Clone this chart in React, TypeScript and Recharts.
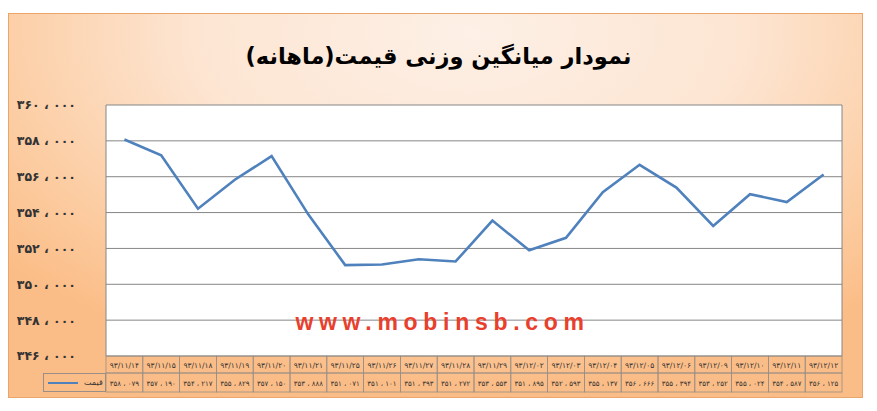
import React from 'react';
import { LineChart, Line, XAxis, YAxis, CartesianGrid, Legend } from 'recharts';

const dates = [
  '93/11/14', '93/11/15', '93/11/18', '93/11/19', '93/11/20', '93/11/21', '93/11/25', '93/11/26', '93/11/27', '93/11/28',
  '93/11/29', '93/12/02', '93/12/03', '93/12/04', '93/12/05', '93/12/06', '93/12/09', '93/12/10', '93/12/11', '93/12/12',
];
const prices = [
  358079, 357190, 354217, 355829, 357150, 353888, 351071, 351101, 351393, 351272,
  353553, 351895, 352593, 355137, 356666, 355394, 353252, 355024, 354587, 356125,
];
const yTicks = [346000, 348000, 350000, 352000, 354000, 356000, 358000, 360000];
const seriesName = 'قیمت';
const title = 'نمودار میانگین وزنی قیمت(ماهانه)';
const watermark = 'www.mobinsb.com';

const data = dates.map((d, i) => ({ date: d, price: prices[i] }));

const W = 877;
const H = 411;
const M = { top: 105, right: 35, bottom: 19, left: 20 };
const Y_W = 86;
const DATE_H = 17;
const VAL_H = 19;
const PLOT_W = W - M.left - M.right - Y_W;
const BAND = PLOT_W / dates.length;

const fa = (s: string) => s.replace(/[0-9]/g, (c) => '۰۱۲۳۴۵۶۷۸۹'[Number(c)]);
const fmtAxis = (v: number) => fa(String(Math.floor(v / 1000))) + ' ، ' + fa(String(v % 1000).padStart(3, '0'));
const fmtVal = (v: number) => fa(String(Math.floor(v / 1000))) + ' ، ' + fa(String(v % 1000).padStart(3, '0'));

const FONT = "'DejaVu Sans', sans-serif";
const CELL_STROKE = '#9a8f86';

const DateTick = (props: any) => {
  const { x, y, payload } = props;
  return (
    <g>
      <rect x={x - BAND / 2} y={y} width={BAND} height={DATE_H} fill="none" stroke={CELL_STROKE} strokeWidth={0.8} />
      <text x={x} y={y + DATE_H / 2 + 3} textAnchor="middle" fontSize={7.5} fontFamily={FONT} fill="#333">
        {fa(payload.value)}
      </text>
    </g>
  );
};

const ValTick = (props: any) => {
  const { x, y, index } = props;
  return (
    <g>
      <rect x={x - BAND / 2} y={y} width={BAND} height={VAL_H} fill="none" stroke={CELL_STROKE} strokeWidth={0.8} />
      <text x={x} y={y + VAL_H / 2 + 3} textAnchor="middle" fontSize={7} fontFamily={FONT} fill="#333">
        {fmtVal(prices[index])}
      </text>
    </g>
  );
};

const LegendCell = () => (
  <div
    style={{
      width: 63,
      height: VAL_H,
      boxSizing: 'border-box',
      border: `0.8px solid ${CELL_STROKE}`,
      display: 'flex',
      alignItems: 'center',
      fontFamily: FONT,
      fontSize: 8,
      color: '#333',
    }}
  >
    <div style={{ width: 30, height: 2, background: '#4f81bd', marginLeft: 4 }} />
    <span style={{ marginLeft: 6 }}>{seriesName}</span>
  </div>
);

export default function App() {
  return (
    <div style={{ position: 'absolute', left: 0, top: 0, width: W, height: H, background: '#fff' }}>
      <div
        style={{
          position: 'absolute',
          left: 8,
          top: 13,
          width: 855,
          height: 385,
          boxSizing: 'border-box',
          border: '1px solid #e9a56a',
          background: 'radial-gradient(ellipse 72% 92% at 54% 5%, #fdf0e6 0%, #fde5d2 45%, #fccda3 78%, #fbbd87 100%)',
        }}
      />
      <div
        style={{
          position: 'absolute',
          left: 0,
          top: 43,
          width: W,
          textAlign: 'center',
          fontFamily: FONT,
          fontWeight: 'bold',
          fontSize: 22.5,
          color: '#000',
          direction: 'rtl',
        }}
      >
        {title}
      </div>
      <div style={{ position: 'absolute', left: 0, top: 0 }}>
        <LineChart width={W} height={H} data={data} margin={M}>
          <CartesianGrid
            fill="#ffffff"
            stroke="#868686"
            strokeWidth={1}
            verticalCoordinatesGenerator={({ offset }: any) => [offset.left, offset.left + offset.width]}
          />
          <XAxis
            xAxisId="date"
            dataKey="date"
            scale="band"
            height={DATE_H}
            axisLine={false}
            tickLine={false}
            tickSize={0}
            tickMargin={0}
            interval={0}
            tick={<DateTick />}
          />
          <XAxis
            xAxisId="val"
            dataKey="date"
            scale="band"
            height={VAL_H}
            axisLine={false}
            tickLine={false}
            tickSize={0}
            tickMargin={0}
            interval={0}
            tick={<ValTick />}
          />
          <YAxis
            width={Y_W}
            domain={[346000, 360000]}
            ticks={yTicks}
            interval={0}
            axisLine={false}
            tickLine={false}
            tickSize={0}
            tickMargin={30}
            tickFormatter={fmtAxis}
            tick={{ fontSize: 12.5, fontWeight: 'bold', fill: '#333', fontFamily: FONT }}
          />
          <Legend
            layout="vertical"
            verticalAlign="middle"
            align="center"
            wrapperStyle={{ left: 43, top: H - M.bottom - VAL_H, width: 63, height: VAL_H }}
            content={<LegendCell />}
          />
          <Line
            xAxisId="date"
            type="linear"
            dataKey="price"
            name={seriesName}
            stroke="#4f81bd"
            strokeWidth={2.6}
            dot={false}
            isAnimationActive={false}
          />
        </LineChart>
      </div>
      <div
        style={{
          position: 'absolute',
          left: 4,
          top: 309,
          width: W,
          textAlign: 'center',
          fontFamily: "'Liberation Sans', Arial, sans-serif",
          fontWeight: 'bold',
          fontSize: 23,
          letterSpacing: 5.7,
          color: '#e8402c',
          pointerEvents: 'none',
        }}
      >
        {watermark}
      </div>
    </div>
  );
}
